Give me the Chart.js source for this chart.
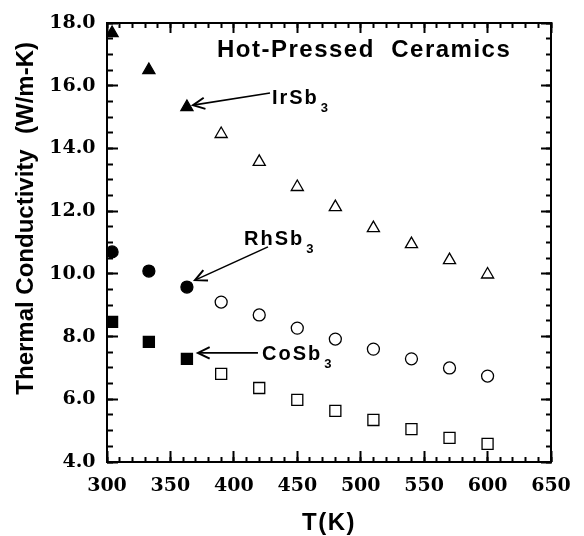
<!DOCTYPE html>
<html>
<head>
<meta charset="utf-8">
<script src="https://cdn.jsdelivr.net/npm/chart.js@4.4.1/dist/chart.umd.min.js"></script>
<style>
  html, body { margin: 0; padding: 0; background: #fff; }
  #wrap { width: 584px; height: 536px; }
</style>
</head>
<body>
<div id="wrap"><canvas id="chart" width="584" height="536"></canvas></div>
<script>
// temperatures (K)
const temps = [304, 333, 363, 390, 420, 450, 480, 510, 540, 570, 600]
// thermal conductivity (W/m-K)
const irSb3 = [17.68, 16.5, 15.32, 14.46, 13.57, 12.77, 12.13, 11.46, 10.95, 10.44, 9.98]
const rhSb3 = [10.7, 10.09, 9.58, 9.1, 8.69, 8.27, 7.92, 7.6, 7.29, 7.0, 6.74]
const coSb3 = [8.47, 7.83, 7.29, 6.81, 6.36, 5.98, 5.63, 5.34, 5.05, 4.77, 4.58]
// first points are drawn filled, the rest open
const filledCount = 3

const xTicks = [300, 350, 400, 450, 500, 550, 600, 650]
const yTicks = [4, 6, 8, 10, 12, 14, 16, 18]
const xMinorStep = 10
const yMinorStep = 0.5

// labels and arrows, in data units: [text, labelX, labelY, tailX, tailY, tipX, tipY]
const labels = [
  ["IrSb", 430, 15.42, 428.5, 15.77, 367.8, 15.38],
  ["RhSb", 408, 10.92, 426.9, 10.86, 369.4, 9.8],
  ["CoSb", 422.2, 7.25, 419, 7.48, 371.7, 7.48],
]

const toPoints = (ys) => temps.map((t, i) => ({ x: t, y: ys[i] }))
const fill = (ctx) => (ctx.dataIndex < filledCount ? "#000" : "#fff")

const serif = "'DejaVu Serif', serif"
const sans = "'Liberation Sans', Arial, sans-serif"

const decorations = {
  id: "decorations",
  afterDraw(chart) {
    const { ctx, chartArea: a } = chart
    const xs = chart.scales.x, ys = chart.scales.y
    ctx.save()
    ctx.strokeStyle = "#000"
    ctx.fillStyle = "#000"
    ctx.textBaseline = "alphabetic"
    ctx.textAlign = "left"

    // header
    ctx.letterSpacing = "1.5px"
    ctx.font = "bold 24px " + sans
    ctx.fillText("Hot-Pressed  Ceramics", xs.getPixelForValue(386.7), ys.getPixelForValue(16.92))

    // compound labels with arrows
    labels.forEach(([name, lx, ly, tx, ty, hx, hy]) => {
      const x0 = xs.getPixelForValue(lx), y0 = ys.getPixelForValue(ly)
      ctx.letterSpacing = "2px"
      ctx.font = "bold 20px " + sans
      ctx.fillText(name, x0, y0)
      const w = ctx.measureText(name).width
      ctx.letterSpacing = "0px"
      ctx.font = "bold 13px " + sans
      ctx.fillText("3", x0 + w + 2, y0 + 8)

      const px1 = xs.getPixelForValue(tx), py1 = ys.getPixelForValue(ty)
      const px2 = xs.getPixelForValue(hx), py2 = ys.getPixelForValue(hy)
      const ang = Math.atan2(py2 - py1, px2 - px1)
      ctx.lineWidth = 1.6
      ctx.beginPath()
      ctx.moveTo(px1, py1)
      ctx.lineTo(px2, py2)
      ctx.stroke()
      ctx.lineWidth = 2
      ctx.beginPath()
      ctx.moveTo(px2 - 13 * Math.cos(ang - 0.45), py2 - 13 * Math.sin(ang - 0.45))
      ctx.lineTo(px2, py2)
      ctx.lineTo(px2 - 13 * Math.cos(ang + 0.45), py2 - 13 * Math.sin(ang + 0.45))
      ctx.stroke()
    })

    // axis titles
    ctx.letterSpacing = "1.5px"
    ctx.font = "bold 24px " + sans
    ctx.textAlign = "center"
    ctx.textBaseline = "middle"
    ctx.fillText("T(K)", (a.left + a.right) / 2, 523)
    ctx.translate(26, 0)
    ctx.rotate(-Math.PI / 2)
    ctx.letterSpacing = "0px"
    ctx.fillText("Thermal Conductivity", -272, 0)
    ctx.fillText("(W/m-K)", -88, 0)
    ctx.restore()
  },
}

// grid settings for inward tick marks only
const inTicks = (len) => ({
  display: true,
  drawOnChartArea: false,
  drawTicks: true,
  tickLength: -len,
  tickWidth: 2,
  tickColor: "#000",
})
const noGrid = { display: false, drawTicks: false }
const frame = { display: true, color: "#000", width: 2 }
const noFrame = { display: false }
const labelFont = { family: serif, size: 19, weight: "bold" }
const setTicks = (list) => (s) => { s.ticks = list.map((v) => ({ value: v })) }
const size0 = (s) => { if (s.isHorizontal()) s.height = 0; else s.width = 0 }

// tick-mark-only axis (no labels, zero size)
const markAxis = (position, min, max, len, ticksOpt, border) => ({
  type: "linear", position, weight: -1, min, max,
  afterFit: size0,
  ...ticksOpt,
  grid: inTicks(len),
  border: border ? frame : noFrame,
})
const xRange = [300, 650], yRange = [4, 18]

new Chart(document.getElementById("chart"), {
  type: "scatter",
  data: {
    datasets: [
      { label: "IrSb3", data: toPoints(irSb3), pointStyle: "triangle", pointRadius: 7 },
      { label: "RhSb3", data: toPoints(rhSb3), pointStyle: "circle", pointRadius: 6 },
      { label: "CoSb3", data: toPoints(coSb3), pointStyle: "rect", pointRadius: 7.8 },
    ].map((d) => ({
      ...d,
      backgroundColor: fill,
      borderColor: "#000",
      borderWidth: 1.3,
      pointHoverRadius: d.pointRadius,
    })),
  },
  plugins: [decorations],
  options: {
    responsive: false,
    animation: false,
    events: [],
    layout: { padding: { left: 0, top: 23, right: 33, bottom: 0 } },
    plugins: { legend: { display: false }, tooltip: { enabled: false } },
    scales: {
      x: {
        type: "linear", position: "bottom", min: xRange[0], max: xRange[1],
        afterFit: (s) => { s.height = 74 },
        afterBuildTicks: setTicks(xTicks),
        grid: noGrid,
        border: frame,
        ticks: { color: "#000", padding: 13, maxRotation: 0, autoSkip: false, font: labelFont },
      },
      y: {
        type: "linear", position: "left", min: yRange[0], max: yRange[1],
        afterFit: (s) => { s.width = 107 },
        afterBuildTicks: setTicks(yTicks),
        grid: noGrid,
        border: frame,
        ticks: { color: "#000", padding: 11.5, autoSkip: false, font: labelFont, callback: (v) => v.toFixed(1) },
      },
      xMajor: markAxis("bottom", ...xRange, 11, { afterBuildTicks: setTicks(xTicks), ticks: { display: false } }),
      xMinor: markAxis("bottom", ...xRange, 5, { ticks: { display: false, stepSize: xMinorStep } }),
      x2Major: markAxis("top", ...xRange, 10, { afterBuildTicks: setTicks(xTicks), ticks: { display: false } }, true),
      x2Minor: markAxis("top", ...xRange, 5, { ticks: { display: false, stepSize: xMinorStep } }),
      yMajor: markAxis("left", ...yRange, 11, { afterBuildTicks: setTicks(yTicks), ticks: { display: false } }),
      yMinor: markAxis("left", ...yRange, 6, { ticks: { display: false, stepSize: yMinorStep } }),
      y2Major: markAxis("right", ...yRange, 10, { afterBuildTicks: setTicks(yTicks), ticks: { display: false } }, true),
      y2Minor: markAxis("right", ...yRange, 5, { ticks: { display: false, stepSize: yMinorStep } }),
    },
  },
})
</script>
</body>
</html>
